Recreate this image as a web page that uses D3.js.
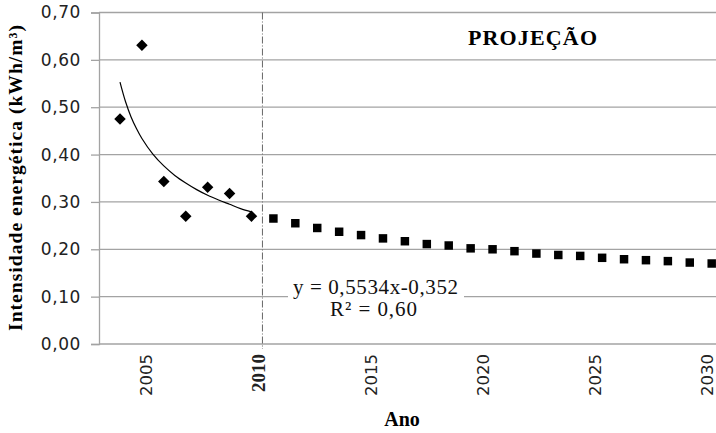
<!DOCTYPE html>
<html><head><meta charset="utf-8">
<script src="https://cdn.jsdelivr.net/npm/d3@7"></script>
<style>body{margin:0;background:#fff}svg{display:block}</style>
</head><body>
<svg id="c" width="716" height="433"></svg>
<script>
// Historic data (diamonds)
const histYears = [2004, 2005, 2006, 2007, 2008, 2009, 2010];
const histValues = [0.475, 0.631, 0.343, 0.270, 0.331, 0.318, 0.270];
// Projection (squares)
const projYears = [2011,2012,2013,2014,2015,2016,2017,2018,2019,2020,2021,2022,2023,2024,2025,2026,2027,2028,2029,2030,2031];
const projValues = [0.265,0.255,0.245,0.237,0.230,0.223,0.217,0.211,0.208,0.202,0.200,0.196,0.191,0.188,0.186,0.182,0.179,0.177,0.175,0.172,0.170];
// Power trendline points (x = 1..7 over 2004..2010)
const trendYears = [2004, 2004.25, 2004.5, 2004.75, 2005, 2005.5, 2006, 2006.5, 2007, 2007.5, 2008, 2008.5, 2009, 2009.5, 2010];
const trendValues = [0.553, 0.512, 0.480, 0.455, 0.434, 0.401, 0.376, 0.356, 0.340, 0.326, 0.314, 0.304, 0.295, 0.286, 0.279];
const yTicks = [0, 0.1, 0.2, 0.3, 0.4, 0.5, 0.6, 0.7];
const xTicks = [2005, 2010, 2015, 2020, 2025, 2030];
const dividerYear = 2010.5;
const eqLine1 = "y = 0,5534x-0,352";
const eqLine2 = "R² = 0,60";

const serif = "'Liberation Serif', 'Times New Roman', serif";
const svg = d3.select("#c");
const L = 99, R = 716, T = 12.5, B = 344;
const y = d3.scaleLinear().domain([0, 0.7]).range([B, T]);
const xP = d3.scaleLinear().domain([2004, 2031]).range([120, 711.7]);
const xA = d3.scaleLinear().domain([2005, 2030]).range([146.5, 707]);
const fmt = v => d3.format(".2f")(v).replace(".", ",");

// gridlines
svg.append("g").selectAll("line").data(yTicks.filter(d => d > 0)).join("line")
  .attr("x1", L).attr("x2", R).attr("y1", d => y(d)).attr("y2", d => y(d))
  .attr("stroke", "#a3a3a3").attr("stroke-width", 1.3);

// y axis
const yAxis = svg.append("g").attr("transform", `translate(${L},0)`)
  .call(d3.axisLeft(y).tickValues(yTicks).tickFormat(fmt).tickSize(8).tickPadding(10));
yAxis.select(".domain").attr("stroke", "#a3a3a3").attr("stroke-width", 1.3);
yAxis.selectAll(".tick line").attr("stroke", "#a3a3a3").attr("stroke-width", 1.3);
yAxis.selectAll(".tick text").attr("font-family", "DejaVu Sans").attr("font-size", 17)
  .attr("letter-spacing", 0.6).attr("fill", "#222");

// x axis line
svg.append("line").attr("x1", L).attr("x2", R).attr("y1", B).attr("y2", B)
  .attr("stroke", "#a3a3a3").attr("stroke-width", 1.3);

// x tick labels
svg.append("g").selectAll("text").data(xTicks).join("text")
  .attr("transform", d => `translate(${xA(d)},354) rotate(-90)`)
  .attr("text-anchor", "end").attr("dy", "0.36em")
  .attr("font-family", d => d === 2010 ? serif : "DejaVu Sans")
  .attr("font-weight", d => d === 2010 ? "bold" : "normal")
  .attr("font-size", d => d === 2010 ? 19 : 16.5).attr("fill", "#222")
  .text(d => d);

// divider
svg.append("line").attr("x1", xP(dividerYear)).attr("x2", xP(dividerYear)).attr("y1", T).attr("y2", B + 5)
  .attr("stroke", "#666").attr("stroke-width", 1).attr("stroke-dasharray", "7,2,1,2");

// equation box
svg.append("rect").attr("x", 288).attr("y", 276).attr("width", 176).attr("height", 44).attr("fill", "#fff");
svg.append("text").attr("x", 375.5).attr("y", 294).attr("text-anchor", "middle")
  .attr("font-family", serif).attr("font-size", 21).attr("fill", "#111")
  .attr("textLength", 165).attr("lengthAdjust", "spacing").text(eqLine1);
svg.append("text").attr("x", 373.5).attr("y", 316).attr("text-anchor", "middle")
  .attr("font-family", serif).attr("font-size", 21).attr("fill", "#111")
  .attr("textLength", 87).attr("lengthAdjust", "spacing").text(eqLine2);

// trendline
svg.append("path").datum(trendYears.map((t, i) => [t, trendValues[i]]))
  .attr("d", d3.line().x(d => xP(d[0])).y(d => y(d[1])).curve(d3.curveCatmullRom))
  .attr("fill", "none").attr("stroke", "#000").attr("stroke-width", 1.2);

// diamonds
svg.append("g").selectAll("path").data(histYears.map((t, i) => [t, histValues[i]])).join("path")
  .attr("transform", d => `translate(${xP(d[0])},${y(d[1])}) rotate(45)`)
  .attr("d", d3.symbol(d3.symbolSquare, 66)).attr("fill", "#000");

// squares
svg.append("g").selectAll("path").data(projYears.map((t, i) => [t, projValues[i]])).join("path")
  .attr("transform", d => `translate(${xP(d[0])},${y(d[1])})`)
  .attr("d", d3.symbol(d3.symbolSquare, 72)).attr("fill", "#000");

// PROJEÇÃO
svg.append("text").attr("x", 532.5).attr("y", 45).attr("text-anchor", "middle")
  .attr("font-family", serif).attr("font-weight", "bold").attr("font-size", 22)
  .attr("textLength", 129).attr("lengthAdjust", "spacing").attr("fill", "#000").text("PROJEÇÃO");

// axis titles
svg.append("text").attr("transform", "translate(22,178) rotate(-90)").attr("text-anchor", "middle")
  .attr("font-family", serif).attr("font-weight", "bold").attr("font-size", 19.5)
  .attr("textLength", 306).attr("lengthAdjust", "spacing").attr("fill", "#000")
  .text("Intensidade energética (kWh/m³)");
svg.append("text").attr("x", 402).attr("y", 426).attr("text-anchor", "middle")
  .attr("font-family", serif).attr("font-weight", "bold").attr("font-size", 20)
  .attr("fill", "#000").text("Ano");
</script>
</body></html>
